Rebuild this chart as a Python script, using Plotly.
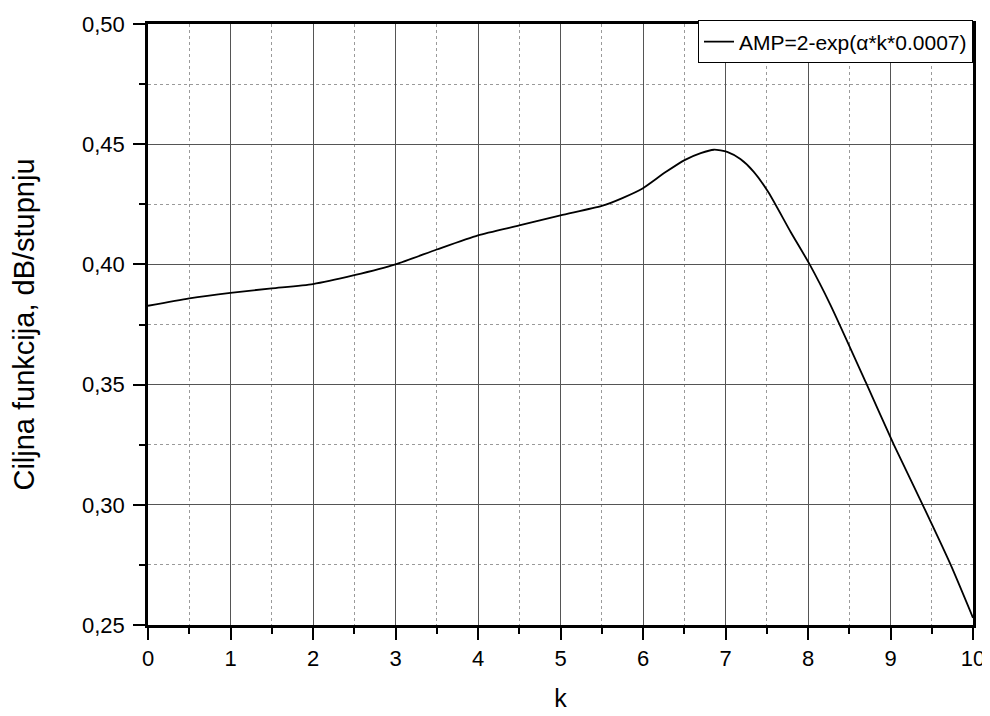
import plotly.graph_objects as go

# Data
k_values = [0.0, 0.5, 1.0, 1.5, 2.0, 2.5, 3.0, 3.5, 4.0, 4.5, 5.0, 5.5, 5.75, 6.0,
            6.27, 6.51, 6.70, 6.86, 7.02, 7.18, 7.34, 7.52, 7.79, 8.02, 8.27, 8.70,
            9.04, 9.39, 9.73, 10.0]
f_values = [0.3828, 0.3859, 0.3882, 0.3900, 0.3918, 0.3955, 0.4000, 0.4062, 0.4121,
            0.4162, 0.4204, 0.4243, 0.4276, 0.4317, 0.4383, 0.4435, 0.4463, 0.4477,
            0.4468, 0.4438, 0.4386, 0.4300, 0.4135, 0.4000, 0.3833, 0.3510,
            0.3250, 0.3000, 0.2750, 0.2530]

series_name = "AMP=2-exp(α*k*0.0007)"
x_title = "k"
y_title = "Ciljna funkcija, dB/stupnju"

x_tick_vals = [0, 1, 2, 3, 4, 5, 6, 7, 8, 9, 10]
x_tick_text = ["0", "1", "2", "3", "4", "5", "6", "7", "8", "9", "10"]
y_tick_vals = [0.25, 0.30, 0.35, 0.40, 0.45, 0.50]
y_tick_text = ["0,25", "0,30", "0,35", "0,40", "0,45", "0,50"]

FONT = "Liberation Sans, Arial, sans-serif"

fig = go.Figure()
fig.add_trace(go.Scatter(
    x=k_values, y=f_values, mode="lines", name=series_name,
    line=dict(color="black", width=1.8, shape="spline", smoothing=0.6),
    showlegend=True,
))

axis_common = dict(
    showline=True, linecolor="black", linewidth=2.5, mirror=True,
    ticks="outside", ticklen=12, tickwidth=2, tickcolor="black",
    showgrid=True, gridcolor="#555555", gridwidth=1,
    zeroline=False, automargin=False,
    tickfont=dict(family=FONT, size=22, color="black"),
)

# The page body has an 8px default margin, so the figure is sized and
# its margins set to place the plot area where the reference has it.
fig.update_layout(
    width=982, height=708,
    paper_bgcolor="white", plot_bgcolor="white",
    margin=dict(l=140, r=17, t=13, b=91),
    font=dict(family=FONT, color="black"),
    showlegend=True,
    legend=dict(
        x=1.0, y=1.006, xanchor="right", yanchor="top",
        bgcolor="white", bordercolor="black", borderwidth=1,
        font=dict(family=FONT, size=21, color="black"),
        itemwidth=30, tracegroupgap=0,
    ),
    xaxis=dict(
        axis_common,
        range=[0, 10],
        tickmode="array", tickvals=x_tick_vals, ticktext=x_tick_text,
        title=dict(text=x_title, font=dict(family=FONT, size=25), standoff=20),
        minor=dict(tickmode="linear", tick0=0, dtick=0.5, ticks="outside", ticklen=6,
                   tickwidth=2, tickcolor="black", showgrid=True,
                   gridcolor="#9a9a9a", griddash="dot", gridwidth=1),
    ),
    yaxis=dict(
        axis_common,
        range=[0.25, 0.50],
        tickmode="array", tickvals=y_tick_vals, ticktext=y_tick_text,
        ticklabelstandoff=4,
        title=dict(text=y_title, font=dict(family=FONT, size=29), standoff=42),
        minor=dict(tickmode="linear", tick0=0.25, dtick=0.025, ticks="outside", ticklen=6,
                   tickwidth=2, tickcolor="black", showgrid=True,
                   gridcolor="#9a9a9a", griddash="dot", gridwidth=1),
    ),
)

fig.write_html("out.html")
